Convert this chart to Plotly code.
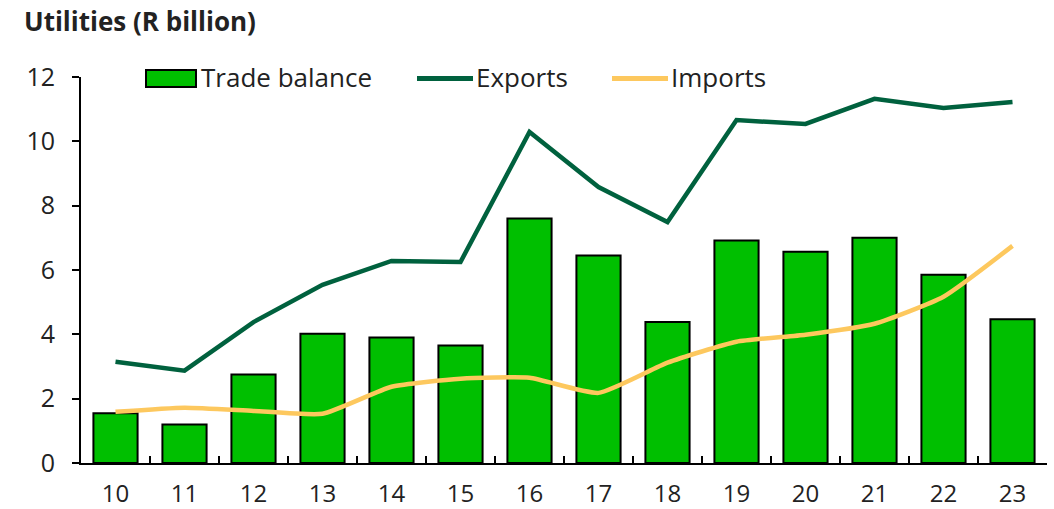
import plotly.graph_objects as go

years = ["10", "11", "12", "13", "14", "15", "16", "17", "18", "19", "20", "21", "22", "23"]
trade_balance = [1.55, 1.2, 2.75, 4.02, 3.9, 3.65, 7.6, 6.45, 4.38, 6.92, 6.57, 7.0, 5.85, 4.47]
exports = [3.15, 2.87, 4.38, 5.54, 6.28, 6.25, 10.29, 8.58, 7.49, 10.66, 10.54, 11.32, 11.04, 11.22]
imports = [1.59, 1.72, 1.62, 1.53, 2.37, 2.62, 2.65, 2.18, 3.12, 3.77, 3.99, 4.33, 5.17, 6.75]
y_ticks = [0, 2, 4, 6, 8, 10, 12]

FONT = "Open Sans"
TXT = "#222222"
BAR_C = "#00BF00"
EXP_C = "#00613E"
IMP_C = "#FDC85E"

W, H = 1054, 509
# plot area in window pixels: x 81..1047, y 77..463.5
PL, PR, PT, PB = 81, 1047, 77, 463.5
L, R, T, B = PL, W - PR, PT, H - PB
PW, PH = W - L - R, H - T - B


def px(x):
    return (x - L) / PW


def py(y):
    return (H - B - y) / PH


fig = go.Figure()
fig.add_trace(go.Bar(
    x=years, y=trade_balance, name="Trade balance",
    marker=dict(color=BAR_C, line=dict(color="#000000", width=2)),
))
fig.add_trace(go.Scatter(
    x=years, y=exports, name="Exports", mode="lines",
    line=dict(color=EXP_C, width=4.5),
))
fig.add_trace(go.Scatter(
    x=years, y=imports, name="Imports", mode="lines",
    line=dict(color=IMP_C, width=4.5, shape="spline", smoothing=0.5),
))

# legend drawn manually (wide swatches like the reference)
shapes = [
    dict(type="rect", xref="paper", yref="paper", x0=px(146), x1=px(196), y0=py(87), y1=py(70),
         fillcolor=BAR_C, line=dict(color="#000000", width=2), layer="above"),
    dict(type="line", xref="paper", yref="paper", x0=px(417), x1=px(473), y0=py(78.5), y1=py(78.5),
         line=dict(color=EXP_C, width=5)),
    dict(type="line", xref="paper", yref="paper", x0=px(612), x1=px(668), y0=py(78.5), y1=py(78.5),
         line=dict(color=IMP_C, width=5)),
]
annotations = [
    dict(text=t, x=px(xp), y=py(77), xref="paper", yref="paper", xanchor="left", yanchor="middle",
         showarrow=False, font=dict(family=FONT, size=26, color=TXT))
    for t, xp in [("Trade balance", 199), ("Exports", 474), ("Imports", 669)]
]
annotations.append(dict(text="<b>Utilities (R billion)</b>", x=px(22), y=py(21), xref="paper", yref="paper",
                        xanchor="left", yanchor="middle", showarrow=False,
                        font=dict(family=FONT, size=26, color=TXT)))

fig.update_layout(
    width=W, height=H,
    margin=dict(l=L, r=R, t=T, b=B, autoexpand=False),
    paper_bgcolor="white", plot_bgcolor="white",
    bargap=0.36,
    showlegend=False,
    font=dict(family=FONT, size=24, color=TXT),
    shapes=shapes, annotations=annotations,
)
fig.update_xaxes(
    type="category", showline=True, linecolor="#000000", linewidth=2,
    ticks="inside", tickson="boundaries", ticklen=7, tickwidth=2, tickcolor="#000000",
    showgrid=False, ticklabelstandoff=8, automargin=False,
    tickfont=dict(family=FONT, size=24, color=TXT),
)
fig.update_yaxes(
    range=[0, 12], tickvals=y_ticks, showline=True, linecolor="#000000", linewidth=2,
    ticks="outside", ticklen=7, tickwidth=2, tickcolor="#000000",
    showgrid=False, zeroline=False, ticklabelstandoff=12, automargin=False,
    tickfont=dict(family=FONT, size=25, color=TXT),
)

fig.write_html("out.html", config={"displayModeBar": False},
               post_script="document.body.style.margin='0';")
